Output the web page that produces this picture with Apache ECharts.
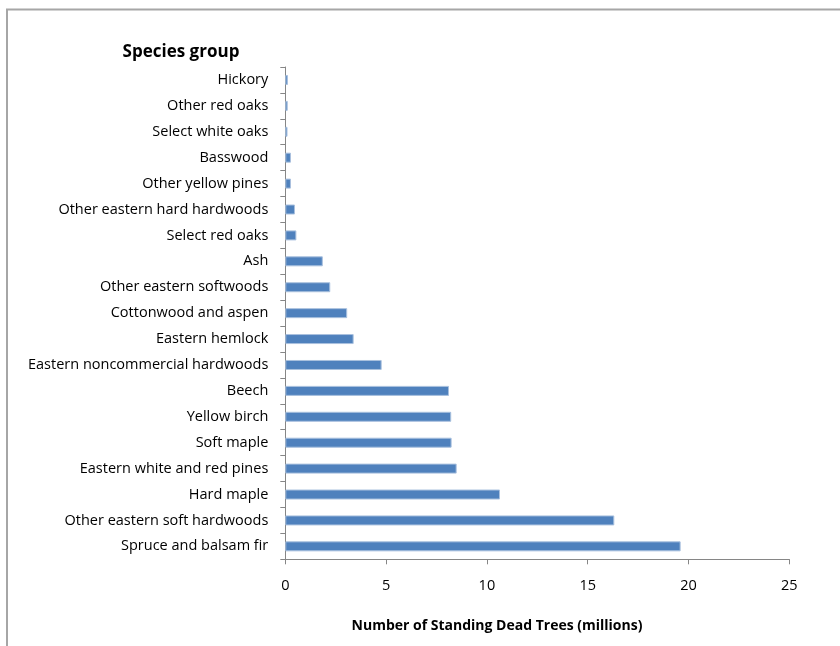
<!DOCTYPE html>
<html>
<head>
<meta charset="utf-8">
<script src="https://cdn.jsdelivr.net/npm/echarts@6/dist/echarts.min.js"></script>
<style>
  html, body { margin: 0; padding: 0; background: #fff; }
  #chart { width: 840px; height: 646px; }
</style>
</head>
<body>
<div id="chart"></div>
<script>
// Species groups, listed top to bottom
const species = [
  'Hickory',
  'Other red oaks',
  'Select white oaks',
  'Basswood',
  'Other yellow pines',
  'Other eastern hard hardwoods',
  'Select red oaks',
  'Ash',
  'Other eastern softwoods',
  'Cottonwood and aspen',
  'Eastern hemlock',
  'Eastern noncommercial hardwoods',
  'Beech',
  'Yellow birch',
  'Soft maple',
  'Eastern white and red pines',
  'Hard maple',
  'Other eastern soft hardwoods',
  'Spruce and balsam fir'
];

// Standing dead trees, millions
const deadTrees = [
  0.13, 0.12, 0.11, 0.28, 0.28, 0.48, 0.55, 1.86, 2.23, 3.07,
  3.39, 4.78, 8.12, 8.23, 8.25, 8.50, 10.65, 16.32, 19.61
];

const xTicks = { min: 0, max: 25, interval: 5 };
const yTitle = 'Species group';
const xTitle = 'Number of Standing Dead Trees (millions)';

const FONT = '"Open Sans"';
const chart = echarts.init(document.getElementById('chart'), null, { renderer: 'canvas' });

chart.setOption({
  animation: false,
  backgroundColor: '#ffffff',
  grid: { left: 285.3, right: 50.7, top: 67, bottom: 86.7, containLabel: false },
  xAxis: {
    type: 'value',
    min: xTicks.min,
    max: xTicks.max,
    interval: xTicks.interval,
    axisLine: { show: true, lineStyle: { color: '#868686', width: 1 } },
    axisTick: { show: true, length: 5, lineStyle: { color: '#868686' } },
    splitLine: { show: false },
    axisLabel: { color: '#000', fontFamily: FONT, fontSize: 14.5, margin: 19 }
  },
  yAxis: {
    type: 'category',
    inverse: true,
    data: species,
    axisLine: { show: true, lineStyle: { color: '#868686', width: 1 } },
    axisTick: { show: true, length: 5, alignWithLabel: false, lineStyle: { color: '#868686' } },
    axisLabel: { color: '#000', fontFamily: FONT, fontSize: 14.5, margin: 17 }
  },
  series: [{
    type: 'bar',
    data: deadTrees,
    barWidth: 10,
    itemStyle: { color: '#4F81BD', borderColor: '#a9c0de', borderWidth: 1 }
  }],
  graphic: [
    {
      type: 'rect',
      shape: { x: 7, y: 9.5, width: 900, height: 700 },
      style: { fill: 'none', stroke: '#a6a6a6', lineWidth: 2 },
      silent: true
    },
    {
      type: 'text',
      x: 181, y: 52,
      style: { text: yTitle, font: 'bold 17px ' + FONT, fill: '#000', align: 'center', verticalAlign: 'middle' }
    },
    {
      type: 'text',
      x: 497, y: 626,
      style: { text: xTitle, font: 'bold 14px ' + FONT, fill: '#000', align: 'center', verticalAlign: 'middle' }
    }
  ]
});
</script>
</body>
</html>
